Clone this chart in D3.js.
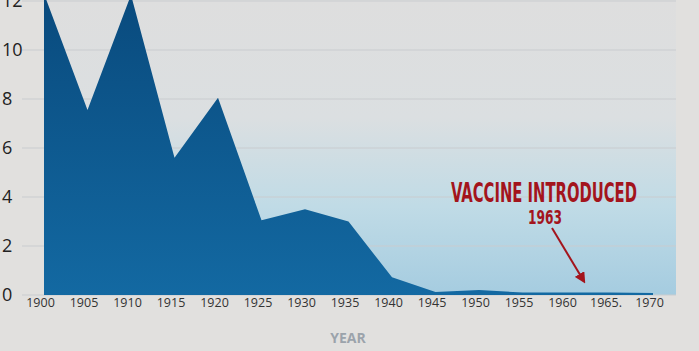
<!DOCTYPE html>
<html>
<head>
<meta charset="utf-8">
<script src="https://cdn.jsdelivr.net/npm/d3@7"></script>
<style>
  body { margin: 0; background: #e1e0de; }
  svg { display: block; }
</style>
</head>
<body>
<div id="wrapper"></div>
<script>
const years = [1900, 1905, 1910, 1915, 1920, 1925, 1930, 1935, 1940, 1945, 1950, 1955, 1960, 1965, 1970];
const cases = [12.3, 7.55, 12.25, 5.6, 8.05, 3.05, 3.5, 3.0, 0.72, 0.12, 0.2, 0.1, 0.1, 0.1, 0.08];
const xTicks = [1900, 1905, 1910, 1915, 1920, 1925, 1930, 1935, 1940, 1945, 1950, 1955, 1960, 1965, 1970];
const xTickLabels = ["1900", "1905", "1910", "1915", "1920", "1925", "1930", "1935", "1940", "1945", "1950", "1955", "1960", "1965.", "1970"];
const yTicks = [0, 2, 4, 6, 8, 10, 12];
const annotationTitle = "VACCINE INTRODUCED";
const annotationYear = "1963";
const vaccineYear = 1963;

function drawAreaChart() {
  const dataset = years.map((y, i) => ({ year: y, value: cases[i] }));
  const xAccessor = d => d.year;
  const yAccessor = d => d.value;

  let dimensions = {
    width: 699,
    height: 351,
    margin: { top: 1, right: 23, bottom: 56, left: 44 },
  };
  dimensions.boundedWidth = dimensions.width - dimensions.margin.left - dimensions.margin.right;
  dimensions.boundedHeight = dimensions.height - dimensions.margin.top - dimensions.margin.bottom;

  const wrapper = d3.select("#wrapper")
    .append("svg")
    .attr("width", dimensions.width)
    .attr("height", dimensions.height);

  const defs = wrapper.append("defs");
  const bgGrad = defs.append("linearGradient")
    .attr("id", "bg-grad").attr("x1", 0).attr("y1", 0).attr("x2", 0).attr("y2", 1);
  bgGrad.append("stop").attr("offset", "0%").attr("stop-color", "#dedede");
  bgGrad.append("stop").attr("offset", "40%").attr("stop-color", "#dbdfe1");
  bgGrad.append("stop").attr("offset", "70%").attr("stop-color", "#c0dbe6");
  bgGrad.append("stop").attr("offset", "100%").attr("stop-color", "#a5cce0");

  const areaGrad = defs.append("linearGradient")
    .attr("id", "area-grad").attr("x1", 0).attr("y1", 0).attr("x2", 0).attr("y2", 1);
  areaGrad.append("stop").attr("offset", "0%").attr("stop-color", "#094a7d");
  areaGrad.append("stop").attr("offset", "100%").attr("stop-color", "#1369a2");

  const arrowMarker = defs.append("marker")
    .attr("id", "arrowhead")
    .attr("viewBox", "0 0 10 10")
    .attr("refX", 8).attr("refY", 5)
    .attr("markerWidth", 5.5).attr("markerHeight", 5.5)
    .attr("orient", "auto");
  arrowMarker.append("path").attr("d", "M0,0 L10,5 L0,10 Z").attr("fill", "#a3141c");

  const bounds = wrapper.append("g")
    .attr("transform", `translate(${dimensions.margin.left},${dimensions.margin.top})`);

  const xScale = d3.scaleLinear()
    .domain([1900, 1970])
    .range([0, 609]);

  const yScale = d3.scaleLinear()
    .domain([0, 12])
    .range([dimensions.boundedHeight, 0]);

  // plot background
  bounds.append("rect")
    .attr("x", 0)
    .attr("y", -dimensions.margin.top)
    .attr("width", dimensions.boundedWidth)
    .attr("height", dimensions.boundedHeight + dimensions.margin.top)
    .attr("fill", "url(#bg-grad)");

  // gridlines
  bounds.append("g")
    .selectAll("line")
    .data(yTicks)
    .join("line")
    .attr("x1", -22)
    .attr("x2", dimensions.boundedWidth)
    .attr("y1", d => yScale(d))
    .attr("y2", d => yScale(d))
    .attr("stroke", "#c9cccf")
    .attr("stroke-width", 1);

  const areaGenerator = d3.area()
    .x(d => xScale(xAccessor(d)))
    .y0(yScale(0))
    .y1(d => yScale(yAccessor(d)));

  bounds.append("path")
    .attr("d", areaGenerator(dataset))
    .attr("fill", "url(#area-grad)");

  // y labels
  bounds.append("g")
    .selectAll("text")
    .data(yTicks)
    .join("text")
    .attr("x", -42)
    .attr("y", d => yScale(d))
    .attr("dy", "0.36em")
    .attr("font-family", "'Open Sans', sans-serif")
    .attr("font-size", 18)
    .attr("fill", "#222")
    .text(d => d);

  // x axis
  const xAxisGenerator = d3.axisBottom(xScale)
    .tickValues(xTicks)
    .tickSize(0)
    .tickPadding(3)
    .tickFormat((d, i) => xTickLabels[i]);

  const xAxis = bounds.append("g")
    .attr("transform", `translate(0,${dimensions.boundedHeight})`)
    .call(xAxisGenerator);
  xAxis.select(".domain").remove();
  xAxis.selectAll("text")
    .attr("dx", -4)
    .attr("font-family", "'Open Sans', sans-serif")
    .attr("font-size", 12.5)
    .attr("fill", "#333");

  wrapper.append("text")
    .attr("x", 348)
    .attr("y", 343)
    .attr("text-anchor", "middle")
    .attr("font-family", "'Open Sans', sans-serif")
    .attr("font-weight", 700)
    .attr("font-size", 14)
    .attr("fill", "#9ba3ab")
    .text("YEAR");

  // annotation
  const annotX = xScale(vaccineYear);
  bounds.append("text")
    .attr("x", 500)
    .attr("y", 201)
    .attr("text-anchor", "middle")
    .attr("font-family", "'Liberation Sans Narrow', 'DejaVu Sans Condensed', sans-serif")
    .attr("font-weight", 700)
    .attr("font-size", 27)
    .attr("textLength", 186)
    .attr("lengthAdjust", "spacingAndGlyphs")
    .attr("fill", "#a3141c")
    .text(annotationTitle);

  bounds.append("text")
    .attr("x", 501)
    .attr("y", 223)
    .attr("text-anchor", "middle")
    .attr("font-family", "'Liberation Sans Narrow', 'DejaVu Sans Condensed', sans-serif")
    .attr("font-weight", 700)
    .attr("font-size", 20)
    .attr("textLength", 34)
    .attr("lengthAdjust", "spacingAndGlyphs")
    .attr("fill", "#a3141c")
    .text(annotationYear);

  bounds.append("line")
    .attr("x1", 508)
    .attr("y1", 227)
    .attr("x2", annotX - 8)
    .attr("y2", yScale(0.55))
    .attr("stroke", "#a3141c")
    .attr("stroke-width", 2)
    .attr("marker-end", "url(#arrowhead)");
}

drawAreaChart();
</script>
</body>
</html>
